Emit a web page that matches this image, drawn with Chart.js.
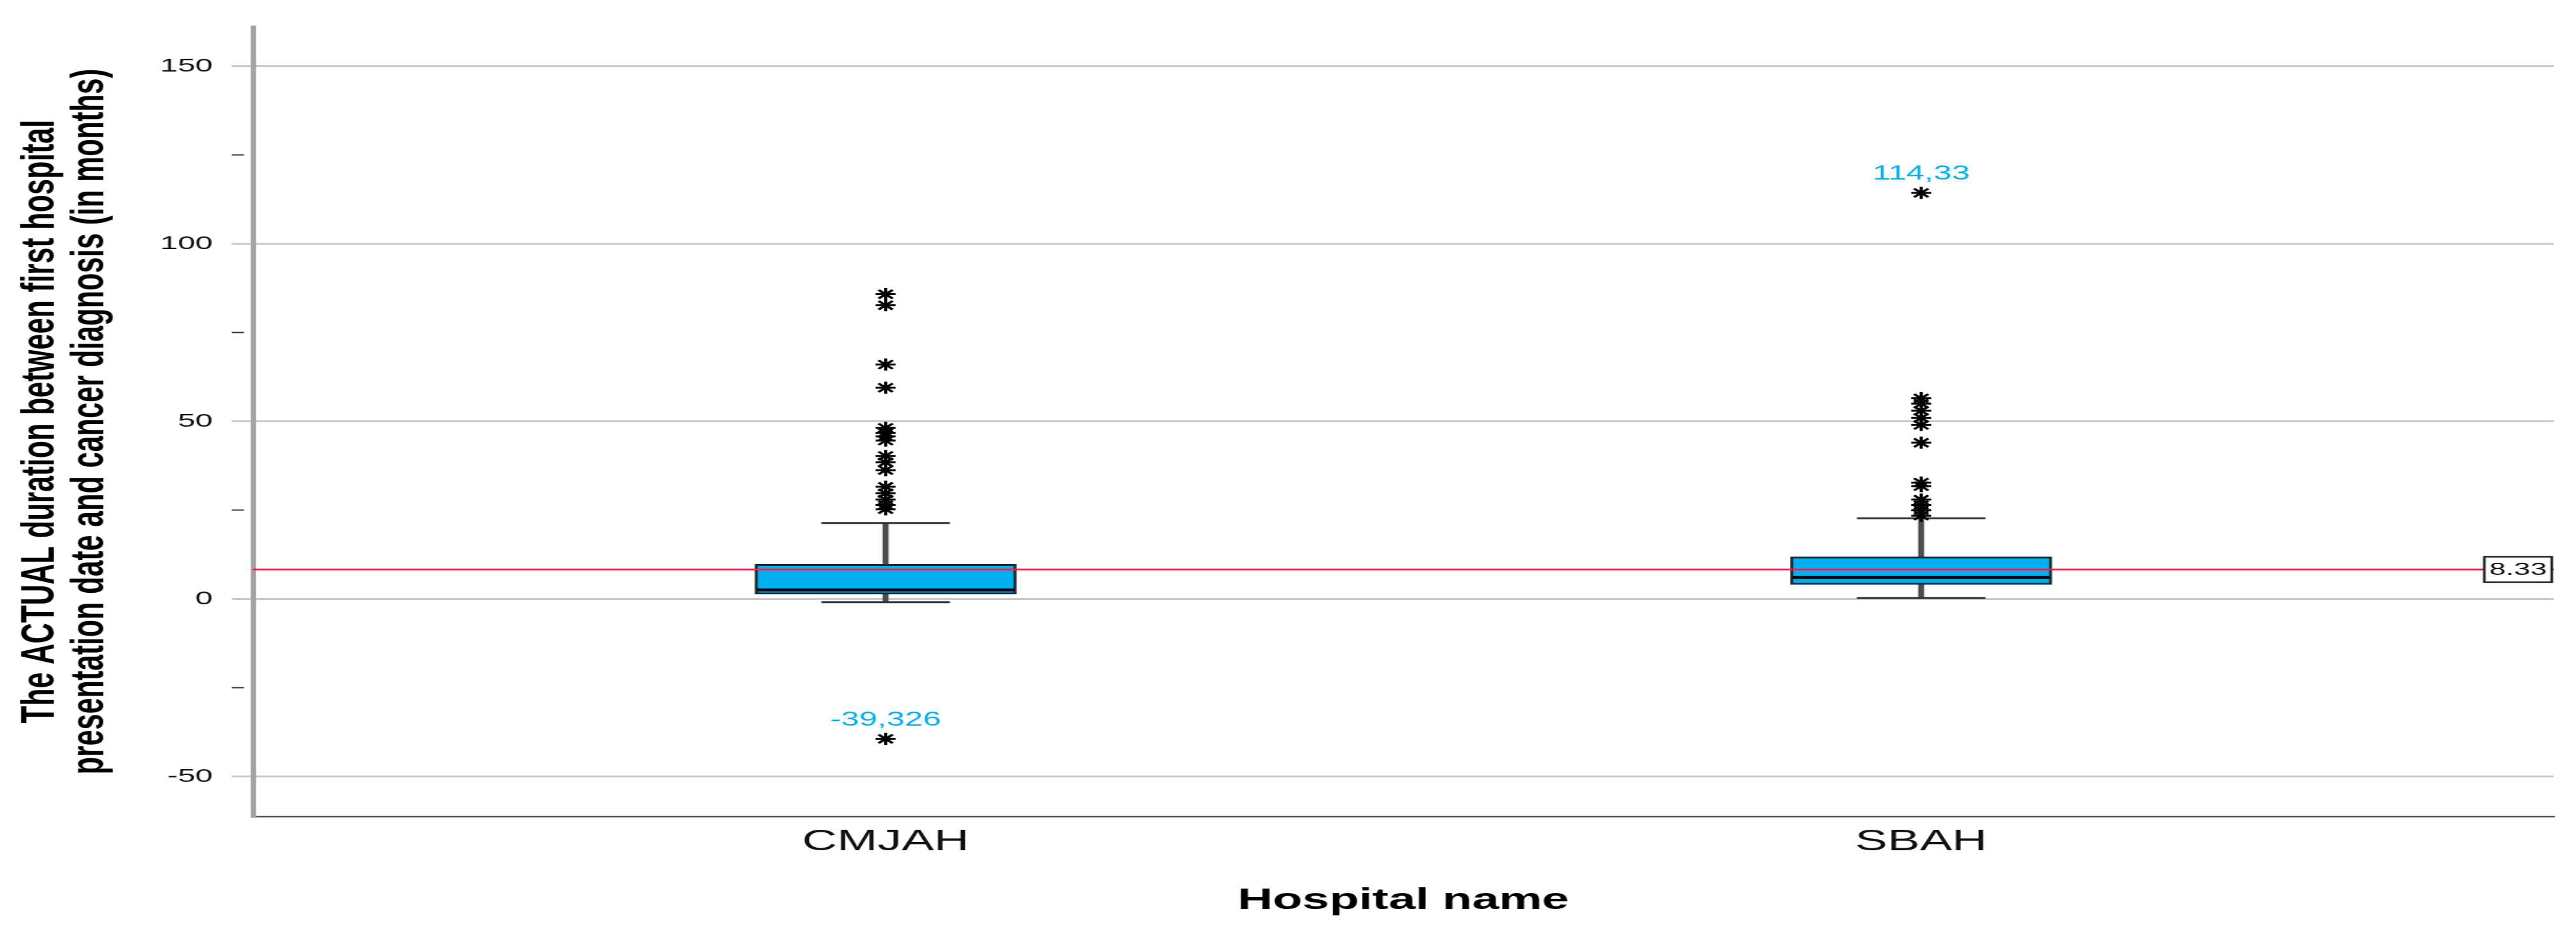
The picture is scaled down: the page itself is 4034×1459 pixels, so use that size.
<!DOCTYPE html>
<html>
<head>
<meta charset="utf-8">
<title>Duration by hospital</title>
<script src="https://cdn.jsdelivr.net/npm/chart.js@4.4.1/dist/chart.umd.min.js"></script>
<style>
  html, body { margin: 0; padding: 0; background: #fff; overflow: hidden; }
  /* the original export is stretched sideways, so draw narrow and widen it */
  #wrap { width: 2445px; height: 1459px; transform: scaleX(1.6499); transform-origin: 0 0; }
</style>
</head>
<body>
<div id="wrap"><canvas id="chart"></canvas></div>
<script>
    // data
    var hospitals   = ['CMJAH', 'SBAH'];
    var whiskerLow  = [-0.9, 0.3];
    var q1          = [1.4, 4.1];
    var medians     = [2.6, 6.1];
    var q3          = [9.8, 11.9];
    var whiskerHigh = [21.4, 22.7];

    var cmjahOutliers = [85.8, 82.7, 66, 59.5, 48.2, 46.8, 45.8, 44.6, 40.3, 38.5, 36.3, 31.6, 29.8, 28, 26.5, 25.3, -39.326];
    var sbahOutliers  = [114.33, 56.5, 55, 53, 51, 49, 44, 32.8, 31.8, 28, 26.5, 25, 23.5];

    // cases that carry a value label (one per hospital)
    var labelledCases = [-39.326, 114.33];
    var meanValue = 8.33;
    var yTicks = [-50, 0, 50, 100, 150];

    function isMajor(c) {
        return c.tick && yTicks.indexOf(c.tick.value) >= 0;
    }

    // red reference line with its value box + the labelled extremes
    var annotate = {
        id: 'annotate',
        afterDatasetsDraw: function(chart) {
            var ctx = chart.ctx, area = chart.chartArea;
            var xs = chart.scales.x, ys = chart.scales.y;
            var yMean = ys.getPixelForValue(meanValue);

            ctx.save();
            ctx.strokeStyle = '#ff1744';
            ctx.lineWidth = 2.5;
            ctx.beginPath();
            ctx.moveTo(area.left, yMean);
            ctx.lineTo(area.right, yMean);
            ctx.stroke();

            var w = 64, h = 40;
            var bx = area.right - 2 - w;
            ctx.fillStyle = '#fff';
            ctx.fillRect(bx, yMean - h / 2, w, h);
            ctx.strokeStyle = '#222';
            ctx.lineWidth = 2.5;
            ctx.strokeRect(bx, yMean - h / 2, w, h);
            ctx.font = '28px "Liberation Sans"';
            ctx.fillStyle = '#111';
            ctx.textAlign = 'center';
            ctx.textBaseline = 'middle';
            ctx.fillText(String(meanValue), bx + w / 2, yMean + 1);

            ctx.font = '31px "Liberation Sans"';
            ctx.fillStyle = '#00b0f0';
            ctx.textBaseline = 'alphabetic';
            labelledCases.forEach(function(v, i) {
                ctx.fillText(String(v).replace('.', ','), xs.getPixelForValue(i + 1), ys.getPixelForValue(v) - 21);
            });
            ctx.restore();
        }
    };

    var whiskerData = hospitals.map(function(h, i) { return {x: i + 1, y: [whiskerLow[i], whiskerHigh[i]]}; });
    var boxData = hospitals.map(function(h, i) { return {x: i + 1, y: [q1[i], q3[i]]}; });
    var medianData = hospitals.map(function(h, i) { return {x: i + 1, y: medians[i]}; });
    var capData = [];
    hospitals.forEach(function(h, i) {
        capData.push({x: i + 1, y: whiskerLow[i]});
        capData.push({x: i + 1, y: whiskerHigh[i]});
    });
    var outlierData = cmjahOutliers.map(function(v) { return {x: 1, y: v}; })
        .concat(sbahOutliers.map(function(v) { return {x: 2, y: v}; }));

    var ctx = document.getElementById('chart').getContext('2d');
    new Chart(ctx, {
        type: 'bar',
        data: {
            datasets: [{
                label: 'whisker',
                data: whiskerData,
                backgroundColor: '#4d4d4d',
                barThickness: 5,
                grouped: false,
                order: 5
            }, {
                label: 'box',
                data: boxData,
                backgroundColor: '#00aff0',
                borderColor: '#1b2b34',
                borderWidth: 3,
                borderSkipped: false,
                barThickness: 248,
                grouped: false,
                order: 4
            }, {
                type: 'scatter',
                label: 'caps',
                data: capData,
                pointStyle: 'line',
                pointRadius: 61,
                pointBorderWidth: 3,
                pointBorderColor: '#333',
                order: 3
            }, {
                type: 'scatter',
                label: 'median',
                data: medianData,
                pointStyle: 'line',
                pointRadius: 122,
                pointBorderWidth: 4.5,
                pointBorderColor: '#000',
                order: 2
            }, {
                type: 'scatter',
                label: 'outliers',
                data: outlierData,
                pointStyle: 'star',
                pointRadius: 9.5,
                pointBorderWidth: 3,
                pointBorderColor: '#000',
                order: 1
            }]
        },
        options: {
            responsive: true,
            maintainAspectRatio: false,
            devicePixelRatio: 1,
            animation: false,
            events: [],
            layout: { autoPadding: false, padding: {left: 0, right: 21, top: 42, bottom: 0} },
            plugins: { legend: {display: false}, tooltip: {enabled: false} },
            scales: {
                x: {
                    type: 'linear',
                    min: 0.389,
                    max: 2.611,
                    offset: false,
                    afterBuildTicks: function(axis) {
                        axis.ticks = hospitals.map(function(h, i) { return {value: i + 1}; });
                    },
                    afterFit: function(s) { s.height = 181; },
                    grid: {display: false, drawTicks: false},
                    border: {display: true, color: '#555', width: 2.5},
                    ticks: {
                        padding: 13,
                        color: '#111',
                        autoSkip: false,
                        maxRotation: 0,
                        font: {family: 'Liberation Sans', size: 46},
                        callback: function(v) { return hospitals[v - 1]; }
                    },
                    title: {
                        display: true,
                        text: 'Hospital name',
                        color: '#000',
                        font: {family: 'Liberation Sans', size: 46, weight: 'bold'},
                        padding: {top: 0, bottom: 21}
                    }
                },
                y: {
                    min: -61.15,
                    max: 161.06,
                    afterFit: function(s) { s.width = 240; },
                    ticks: {
                        stepSize: 25,
                        includeBounds: false,
                        padding: 18,
                        color: '#111',
                        font: {family: 'Liberation Sans', size: 30},
                        callback: function(v) { return yTicks.indexOf(v) >= 0 ? v : ''; }
                    },
                    grid: {
                        color: function(c) { return isMajor(c) ? '#cacaca' : 'rgba(0,0,0,0)'; },
                        lineWidth: 3,
                        tickLength: 20,
                        tickColor: function(c) { return isMajor(c) ? '#cacaca' : '#333'; },
                        tickWidth: function(c) { return isMajor(c) ? 3 : 2; },
                        tickBorderDash: function(c) { return isMajor(c) ? [] : [11.5, 40]; }
                    },
                    border: {color: '#a3a3a3', width: 5},
                    title: {
                        display: true,
                        text: ['The ACTUAL duration between first hospital', 'presentation date and cancer diagnosis (in months)'],
                        color: '#000',
                        font: {family: 'Liberation Sans', size: 45, weight: 'bold', lineHeight: '47px'},
                        padding: {top: 15.5, bottom: 0}
                    }
                }
            }
        },
        plugins: [annotate]
    });
</script>
</body>
</html>
